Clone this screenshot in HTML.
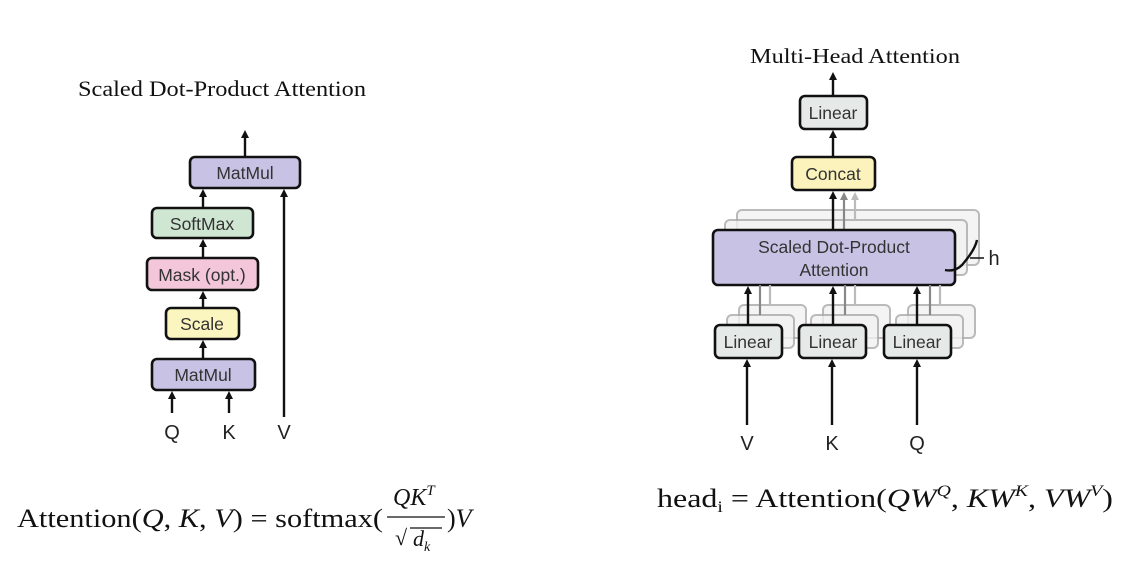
<!DOCTYPE html>
<html><head><meta charset="utf-8"><style>
html,body{margin:0;padding:0;background:#fff;width:1144px;height:570px;overflow:hidden}
svg{display:block}
.b{stroke:#111;stroke-width:2.6}
.t{font-family:"Liberation Sans",sans-serif;font-size:17.5px;fill:#333;text-anchor:middle}
.q{font-family:"Liberation Sans",sans-serif;font-size:20px;fill:#222;text-anchor:middle}
.s{font-family:"Liberation Serif",serif;fill:#111}
.l{stroke:#111;stroke-width:2.4;fill:none}
.g{stroke:#aaa;stroke-width:2;fill:#f2f2f2;opacity:.8}
</style></head><body>
<svg width="1144" height="570" viewBox="0 0 1144 570">
<defs>
<marker id="a" markerWidth="8" markerHeight="8" refX="4" refY="4" orient="auto" markerUnits="userSpaceOnUse"><path d="M0,0 L8,4 L0,8 z" fill="#111"/></marker>
<marker id="ag" markerWidth="8" markerHeight="8" refX="4" refY="4" orient="auto" markerUnits="userSpaceOnUse"><path d="M0,0 L8,4 L0,8 z" fill="#888"/></marker>
<marker id="ag2" markerWidth="8" markerHeight="8" refX="4" refY="4" orient="auto" markerUnits="userSpaceOnUse"><path d="M0,0 L8,4 L0,8 z" fill="#bbb"/></marker>
</defs>
<!-- Left -->
<text class="s" x="78" y="96" font-size="22" textLength="288" lengthAdjust="spacingAndGlyphs">Scaled Dot-Product Attention</text>
<line class="l" x1="245" y1="157" x2="245" y2="134" marker-end="url(#a)"/>
<rect class="b" x="190" y="157" width="110" height="31" rx="5" fill="#c8c2e4"/><text class="t" x="245" y="179">MatMul</text>
<line class="l" x1="203" y1="208" x2="203" y2="193" marker-end="url(#a)"/>
<rect class="b" x="152" y="208" width="101" height="30" rx="5" fill="#cfe6d2"/><text class="t" x="202" y="230">SoftMax</text>
<line class="l" x1="203" y1="258" x2="203" y2="243" marker-end="url(#a)"/>
<rect class="b" x="147" y="258" width="111" height="32" rx="5" fill="#f3c7d9"/><text class="t" x="202" y="281">Mask (opt.)</text>
<line class="l" x1="203" y1="308" x2="203" y2="295" marker-end="url(#a)"/>
<rect class="b" x="166" y="308" width="73" height="31" rx="5" fill="#fbf5bf"/><text class="t" x="202" y="330">Scale</text>
<line class="l" x1="203" y1="359" x2="203" y2="344" marker-end="url(#a)"/>
<rect class="b" x="152" y="359" width="103" height="31" rx="5" fill="#c8c2e4"/><text class="t" x="203" y="381">MatMul</text>
<line class="l" x1="172" y1="413" x2="172" y2="395" marker-end="url(#a)"/>
<line class="l" x1="229" y1="413" x2="229" y2="395" marker-end="url(#a)"/>
<line class="l" x1="284" y1="417" x2="284" y2="193" marker-end="url(#a)"/>
<text class="q" x="172" y="439">Q</text>
<text class="q" x="229" y="439">K</text>
<text class="q" x="284" y="439">V</text>
<!-- Left formula -->
<text class="s" x="17" y="527" font-size="26" textLength="366" lengthAdjust="spacingAndGlyphs">Attention(<tspan font-style="italic">Q</tspan>, <tspan font-style="italic">K</tspan>, <tspan font-style="italic">V</tspan>) = softmax(</text>
<text class="s" x="393" y="505" font-size="24" font-style="italic">QK<tspan dy="-10" font-size="15">T</tspan></text>
<line x1="387" y1="517" x2="445" y2="517" stroke="#111" stroke-width="1.3"/>
<text class="s" x="395" y="545" font-size="22">√</text>
<line x1="410" y1="528" x2="442" y2="528" stroke="#111" stroke-width="1.2"/>
<text class="s" x="413" y="546" font-size="22" font-style="italic">d<tspan dy="5" font-size="14">k</tspan></text>
<text class="s" x="447" y="527" font-size="26">)<tspan font-style="italic">V</tspan></text>
<!-- Right -->
<text class="s" x="750" y="63" font-size="21" textLength="210" lengthAdjust="spacingAndGlyphs">Multi-Head Attention</text>
<line class="l" x1="833" y1="96" x2="833" y2="76" marker-end="url(#a)"/>
<rect class="b" x="800" y="96" width="67" height="33" rx="5" fill="#e5e9e8"/><text class="t" x="833" y="119">Linear</text>
<line class="l" x1="833" y1="157" x2="833" y2="134" marker-end="url(#a)"/>
<rect class="b" x="792" y="157" width="83" height="33" rx="5" fill="#fbf3bb"/><text class="t" x="833" y="180">Concat</text>
<rect class="g" x="737" y="210" width="242" height="55" rx="5"/>
<rect class="g" x="725" y="220" width="242" height="55" rx="5" fill="#e0dcef"/>
<line x1="855" y1="220" x2="855" y2="196" stroke="#bbb" stroke-width="2.2" marker-end="url(#ag2)"/>
<line x1="844" y1="230" x2="844" y2="196" stroke="#888" stroke-width="2.2" marker-end="url(#ag)"/>
<rect class="b" x="713" y="230" width="242" height="55" rx="5" fill="#c8c2e4"/>
<text class="t" x="834" y="253">Scaled Dot-Product</text>
<text class="t" x="834" y="276">Attention</text>
<line class="l" x1="833" y1="230" x2="833" y2="195" marker-end="url(#a)"/>
<path d="M977,240 Q975,250 962,265 Q955,272 945,270" stroke="#111" stroke-width="2.4" fill="none"/>
<line x1="970" y1="258" x2="984" y2="258" stroke="#111" stroke-width="1.5"/>
<text class="q" x="994" y="265" font-size="18">h</text>
<g>
<rect class="g" x="739" y="305" width="67" height="33" rx="5"/>
<rect class="g" x="727" y="315" width="67" height="33" rx="5"/>
<line x1="770" y1="305" x2="770" y2="285" stroke="#bbb" stroke-width="2.2"/>
<line x1="760" y1="315" x2="760" y2="285" stroke="#888" stroke-width="2.2"/>
<rect class="b" x="715" y="325" width="67" height="33" rx="5" fill="#e5e9e8"/><text class="t" x="748" y="348">Linear</text>
<line class="l" x1="748" y1="325" x2="748" y2="290" marker-end="url(#a)"/>
<line class="l" x1="747" y1="425" x2="747" y2="363" marker-end="url(#a)"/>
</g>
<g>
<rect class="g" x="823" y="305" width="67" height="33" rx="5"/>
<rect class="g" x="811" y="315" width="67" height="33" rx="5"/>
<line x1="855" y1="305" x2="855" y2="285" stroke="#bbb" stroke-width="2.2"/>
<line x1="845" y1="315" x2="845" y2="285" stroke="#888" stroke-width="2.2"/>
<rect class="b" x="799" y="325" width="67" height="33" rx="5" fill="#e5e9e8"/><text class="t" x="833" y="348">Linear</text>
<line class="l" x1="833" y1="325" x2="833" y2="290" marker-end="url(#a)"/>
<line class="l" x1="832" y1="425" x2="832" y2="363" marker-end="url(#a)"/>
</g>
<g>
<rect class="g" x="908" y="305" width="67" height="33" rx="5"/>
<rect class="g" x="896" y="315" width="67" height="33" rx="5"/>
<line x1="940" y1="305" x2="940" y2="285" stroke="#bbb" stroke-width="2.2"/>
<line x1="930" y1="315" x2="930" y2="285" stroke="#888" stroke-width="2.2"/>
<rect class="b" x="884" y="325" width="67" height="33" rx="5" fill="#e5e9e8"/><text class="t" x="917" y="348">Linear</text>
<line class="l" x1="917" y1="325" x2="917" y2="290" marker-end="url(#a)"/>
<line class="l" x1="917" y1="425" x2="917" y2="363" marker-end="url(#a)"/>
</g>
<text class="q" x="747" y="450">V</text>
<text class="q" x="832" y="450">K</text>
<text class="q" x="917" y="450">Q</text>
<text class="s" x="657" y="507" font-size="26" textLength="456" lengthAdjust="spacingAndGlyphs">head<tspan dy="5" font-size="16">i</tspan><tspan dy="-5"> = Attention(</tspan><tspan font-style="italic">QW</tspan><tspan dy="-11" font-size="16" font-style="italic">Q</tspan><tspan dy="11">, </tspan><tspan font-style="italic">KW</tspan><tspan dy="-11" font-size="16" font-style="italic">K</tspan><tspan dy="11">, </tspan><tspan font-style="italic">VW</tspan><tspan dy="-11" font-size="16" font-style="italic">V</tspan><tspan dy="11">)</tspan></text>
</svg>
</body></html>
